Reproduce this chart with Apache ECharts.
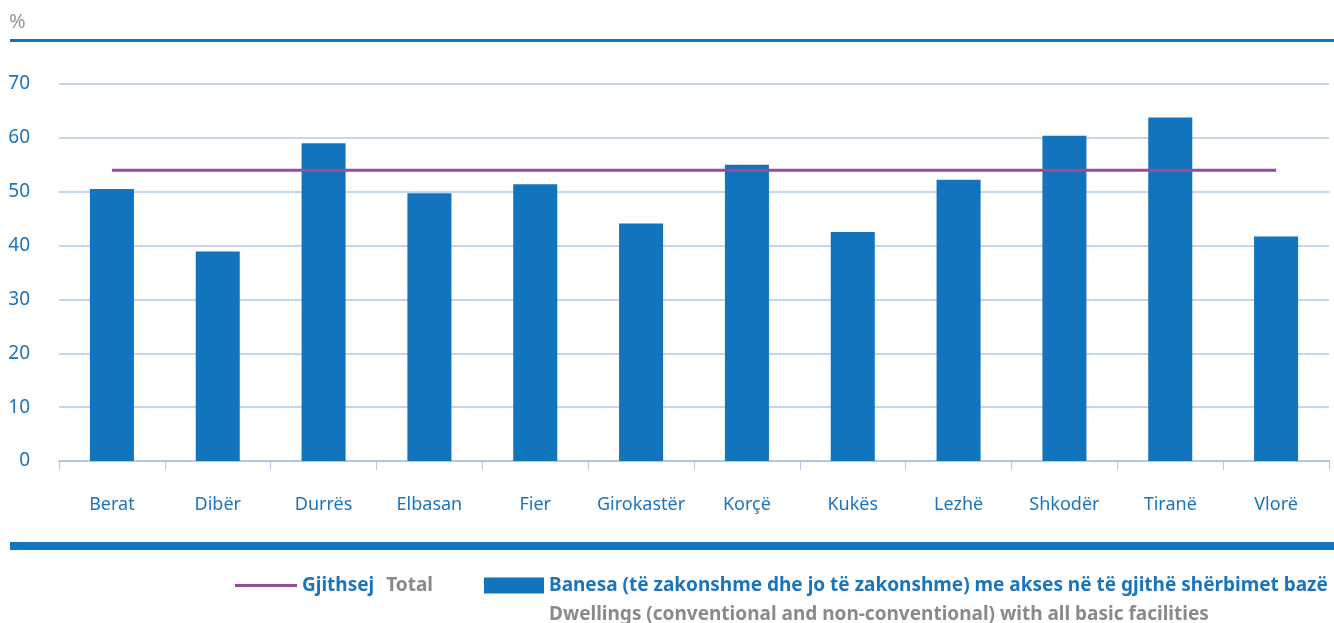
<!DOCTYPE html>
<html>
<head>
<meta charset="utf-8">
<script src="https://cdn.jsdelivr.net/npm/echarts@6/dist/echarts.min.js"></script>
<style>
  html, body { margin: 0; padding: 0; background: #fff; }
  #chart { width: 1334px; height: 623px; }
</style>
</head>
<body>
<div id="chart"></div>
<script>
const districts = ['Berat', 'Dibër', 'Durrës', 'Elbasan', 'Fier', 'Girokastër', 'Korçë', 'Kukës', 'Lezhë', 'Shkodër', 'Tiranë', 'Vlorë']
const dwellings = [50.5, 38.9, 59.0, 49.7, 51.4, 44.1, 55.0, 42.5, 52.2, 60.4, 63.8, 41.7]
const total = [54.0, 54.0, 54.0, 54.0, 54.0, 54.0, 54.0, 54.0, 54.0, 54.0, 54.0, 54.0]
const yTicks = { min: 0, max: 70, interval: 10 }

const blue = '#1274bc'
const textBlue = '#1a75bc'
const gray = '#8a8a8a'
const purple = '#984c9a'
const gridColor = '#b3c7e8'
const font = '"Noto Sans", sans-serif'

const chart = echarts.init(document.getElementById('chart'))

const option = {
  animation: false,
  textStyle: { fontFamily: font },
  title: {
    text: '%',
    left: 9,
    top: 12,
    padding: 0,
    textStyle: { color: '#999999', fontSize: 20, fontWeight: 'normal', fontFamily: font }
  },
  grid: {
    left: 59,
    right: 5,
    top: 84,
    bottom: 162
  },
  legend: [
    {
      data: ['Gjithsej'],
      left: 235,
      top: 576,
      padding: 0,
      icon: 'rect',
      itemWidth: 62,
      itemHeight: 3,
      formatter: () => '{a|Gjithsej}{b|Total}',
      textStyle: {
        rich: {
          a: { color: textBlue, fontSize: 19, fontWeight: 'bold', fontFamily: font, padding: [0, 12, 0, 0] },
          b: { color: gray, fontSize: 19, fontWeight: 'bold', fontFamily: font }
        }
      }
    },
    {
      data: ['Banesa'],
      left: 484,
      top: 576,
      padding: 0,
      icon: 'rect',
      itemWidth: 60,
      itemHeight: 16,
      formatter: () => 'Banesa (të zakonshme dhe jo të zakonshme) me akses në të gjithë shërbimet bazë',
      textStyle: { color: textBlue, fontSize: 19, fontWeight: 'bold', fontFamily: font }
    }
  ],
  xAxis: {
    type: 'category',
    data: districts,
    axisLine: { lineStyle: { color: gridColor, width: 2 } },
    axisTick: { show: true, interval: 0, length: 9, lineStyle: { color: gridColor } },
    axisLabel: { interval: 0, color: textBlue, fontSize: 18, margin: 35, fontFamily: font }
  },
  yAxis: {
    type: 'value',
    min: yTicks.min,
    max: yTicks.max,
    interval: yTicks.interval,
    axisLine: { show: false },
    axisTick: { show: false },
    splitLine: { lineStyle: { color: gridColor, width: 1.5 } },
    axisLabel: { color: textBlue, fontSize: 19, margin: 29, fontFamily: font }
  },
  graphic: [
    { type: 'rect', left: 10, top: 39, shape: { width: 1324, height: 3 }, style: { fill: blue } },
    { type: 'rect', left: 10, top: 542, shape: { width: 1324, height: 8 }, style: { fill: blue } },
    {
      type: 'text',
      left: 549,
      top: 605,
      style: {
        text: 'Dwellings (conventional and non-conventional) with all basic facilities',
        fill: gray,
        font: 'bold 19px ' + font
      }
    }
  ],
  series: [
    {
      name: 'Banesa',
      type: 'bar',
      data: dwellings,
      barWidth: '41.6%',
      itemStyle: { color: blue },
      z: 2
    },
    {
      name: 'Gjithsej',
      type: 'line',
      data: total,
      symbol: 'none',
      lineStyle: { color: purple, width: 3 },
      itemStyle: { color: purple },
      z: 3
    }
  ]
}

chart.setOption(option)
</script>
</body>
</html>
